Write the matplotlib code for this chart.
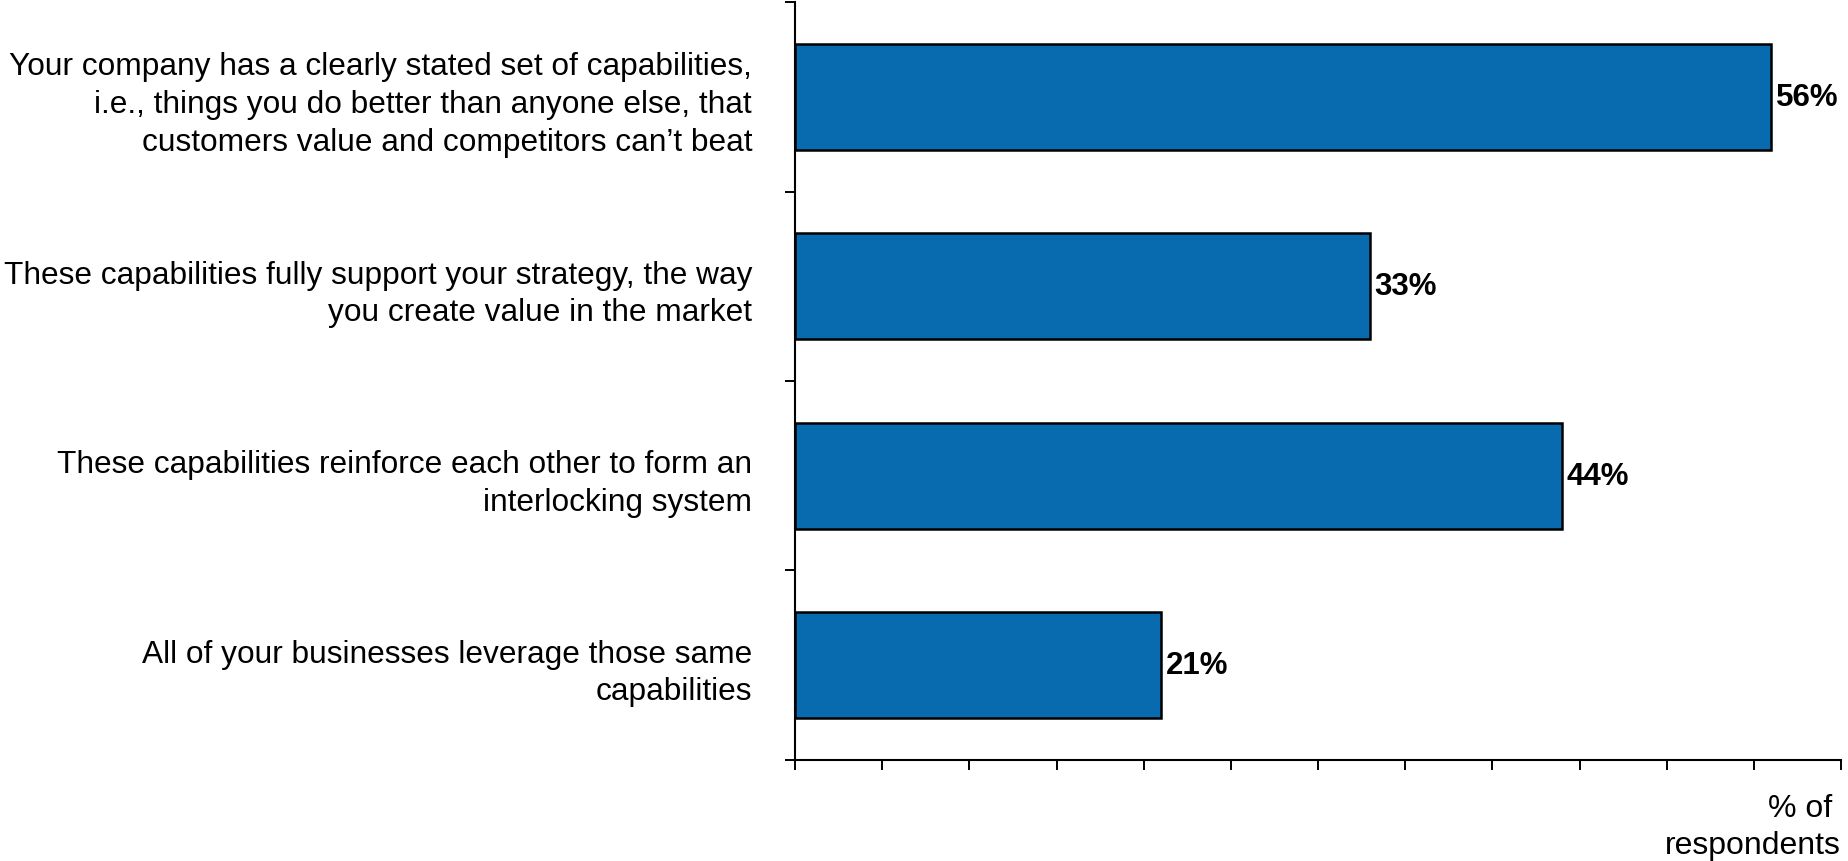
import numpy as np
import matplotlib.pyplot as plt

plt.rcParams['font.family'] = ['Liberation Sans', 'DejaVu Sans']

# Survey statements and share of respondents agreeing
statements = [
    "Your company has a clearly stated set of capabilities,\n"
    "i.e., things you do better than anyone else, that\n"
    "customers value and competitors can\u2019t beat",
    "These capabilities fully support your strategy, the way\n"
    "you create value in the market",
    "These capabilities reinforce each other to form an\n"
    "interlocking system",
    "All of your businesses leverage those same\n"
    "capabilities",
]
percent = [56, 33, 44, 21]

bar_color = '#086BB0'

fig = plt.figure(figsize=(18.49, 8.62), dpi=100)
ax = fig.add_axes([0.43, 0.1172, 0.5657, 0.8793])

y = np.arange(len(statements))
bars = ax.barh(y, percent, height=0.56, color=bar_color,
               edgecolor='black', linewidth=1.8)

for b, v in zip(bars, percent):
    ax.text(b.get_width() + 0.25, b.get_y() + b.get_height() / 2, f"{v}%",
            ha='left', va='center', fontsize=22.5, fontweight='bold')

ax.set_xlim(0, 60)
ax.set_ylim(len(statements) - 0.5, -0.5)

ax.set_xticks(np.arange(0, 61, 5))
ax.set_xticklabels([])
ax.tick_params(axis='x', direction='out', length=7.5, width=1.4)

# category labels sit on major ticks, boundary marks on minor ticks
ax.set_yticks(y)
ax.set_yticklabels(statements, fontsize=22.8, linespacing=1.33,
                   ha='right', multialignment='right')
ax.tick_params(axis='y', which='major', length=0, pad=31)
ax.set_yticks(np.arange(-0.5, len(statements)), minor=True)
ax.tick_params(axis='y', which='minor', direction='out', length=7.5, width=1.4)

for side in ['top', 'right']:
    ax.spines[side].set_visible(False)
for side in ['left', 'bottom']:
    ax.spines[side].set_linewidth(1.5)

fig.text(1841 / 1849, 1 / 862, "% of \nrespondents", ha='right',
         va='bottom', fontsize=23, linespacing=1.3, multialignment='right')

fig.savefig('out.png', dpi=100)
